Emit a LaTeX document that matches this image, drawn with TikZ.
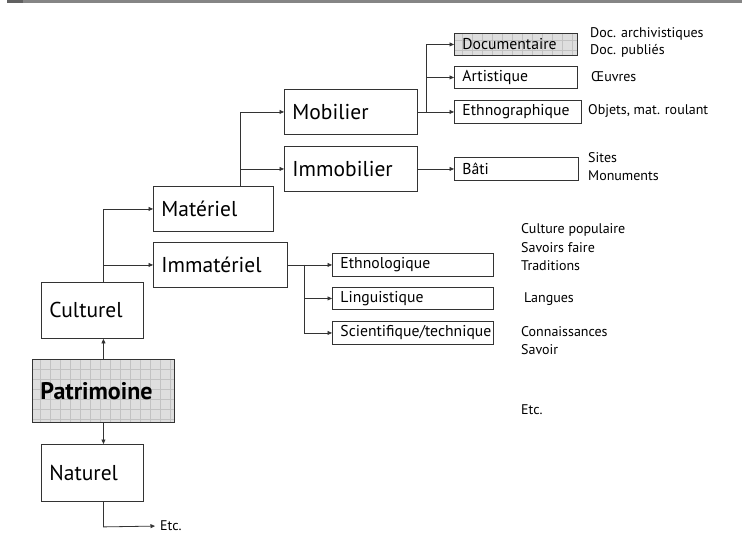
\documentclass[tikz,border=0pt]{standalone}
\usepackage{fontspec}
\setmainfont{PT Sans}
\usetikzlibrary{arrows.meta}
\definecolor{linec}{HTML}{333333}
\definecolor{gridfill}{HTML}{DEDEDE}
\definecolor{gridline}{HTML}{C2C2C2}
\tikzset{
  bx/.style={draw=linec, line width=0.9pt, inner xsep=8pt, inner ysep=0pt, align=left, anchor=north west},
  big/.style={bx, font=\fontsize{21.5}{24}\selectfont},
  small/.style={bx, font=\fontsize{15.7}{18}\selectfont},
  gridded/.style={fill=gridfill, path picture={\draw[gridline, line width=0.5pt, step=10pt] (path picture bounding box.south west) grid (path picture bounding box.north east);}},
  lab/.style={anchor=west, inner sep=0pt, font=\fontsize{14}{16}\selectfont},
  arr/.style={draw=linec, line width=0.8pt, -{Triangle[length=4.5pt,width=4pt]}},
}
\begin{document}
\begin{tikzpicture}[x=1pt, y=-1pt]
\useasboundingbox (0,0) rectangle (746,545);
\fill[black!48] (7,0) rectangle (742,3);
\fill[black!62] (7,0) rectangle (23,3);
% nodes
\node[small, gridded, text width=107, minimum height=22] (doc) at (454,33) {Documentaire};
\node[small, text width=107, minimum height=22] (art) at (454,66) {Artistique};
\node[small, text width=111, minimum height=23] (eth) at (454,100) {Ethnographique};
\node[small, text width=108, minimum height=23] (bati) at (454,157) {Bâti};
\node[big, text width=117, minimum height=45] (mob) at (284,89) {Mobilier};
\node[big, text width=117, minimum height=45] (immo) at (284,146) {Immobilier};
\node[big, text width=104, minimum height=45] (mat) at (153,186) {Matériel};
\node[big, text width=118, minimum height=45] (imm) at (153,242) {Immatériel};
\node[small, text width=145, minimum height=23] (ethno) at (332,253) {Ethnologique};
\node[small, text width=145, minimum height=22] (ling) at (332,287) {Linguistique};
\node[small, text width=145, minimum height=23] (sci) at (332,321) {Scientifique/technique};
\node[big, text width=86, minimum height=56] (cul) at (41,282) {Culturel};
\node[big, gridded, text width=126, minimum height=63, font=\fontsize{24}{26}\selectfont\bfseries] (pat) at (32,359) {Patrimoine};
\node[big, text width=86, minimum height=57] (nat) at (41,444) {Naturel};
% labels
\node[lab] (l1) at (590,34) {Doc. archivistiques};
\node[lab] (l2) at (590,51) {Doc. publiés};
\node[lab] (l3) at (591,77) {Œuvres};
\node[lab] (l4) at (588,111) {Objets, mat. roulant};
\node[lab] (l5) at (588,158) {Sites};
\node[lab] (l6) at (588,176) {Monuments};
\node[lab] (l7) at (521,230) {Culture populaire};
\node[lab] (l8) at (521,248) {Savoirs faire};
\node[lab] (l9) at (521,266) {Traditions};
\node[lab] (l10) at (524,299) {Langues};
\node[lab] (l11) at (521,332) {Connaissances};
\node[lab] (l12) at (521,350) {Savoir};
\node[lab] (l13) at (521,410) {Etc.};
\node[lab] (etc) at (160,526) {Etc.};
% junction coordinates
\coordinate (mj) at (240,0);
\coordinate (dj) at (426,0);
\coordinate (ij) at (304,0);
% connectors
\draw[arr] (pat.north) -- (pat.north |- cul.south);
\draw[arr] (pat.south) -- (pat.south |- nat.north);
\draw[arr, shorten >=5pt] (pat.south |- nat.south) -- ++(0,25) -- (etc.west);
\draw[arr] (pat.north |- cul.north) |- (mat.west);
\draw[arr] (pat.north |- imm.west) -- (imm.west);
\draw[arr] (mj |- mat.north) |- (mob.west);
\draw[arr] (mj |- immo.west) -- (immo.west);
\draw[arr] (mob.east) -- (mob.east -| eth.west);
\draw[arr] (dj |- mob.east) |- (doc.west);
\draw[arr] (dj |- art.west) -- (art.west);
\draw[arr] (immo.east) -- (immo.east -| bati.west);
\draw[arr] (imm.east) -- (imm.east -| ethno.west);
\draw[arr] (ij |- imm.east) |- (ling.west);
\draw[arr] (ij |- imm.east) |- (sci.west);
\end{tikzpicture}
\end{document}
